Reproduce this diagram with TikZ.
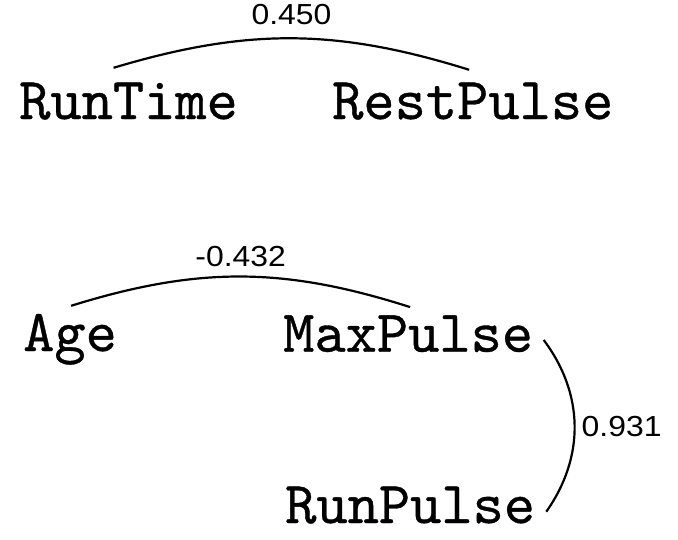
\documentclass[tikz,border=0pt]{standalone}
\usepackage{fontspec}
\usepackage{graphicx}
\newfontfamily\labfont{Liberation Sans}
\newfontfamily\varfamily{lmmono10-regular.otf}[FakeBold=0.6]
\newcommand{\varfont}{\fontsize{59.5}{60}\selectfont\varfamily\bfseries}
\newcommand{\corr}[1]{\scalebox{1.1}[1]{\fontsize{29}{31}\selectfont\labfont #1}}
\tikzset{
  var/.style={font=\varfont, inner sep=0pt, text height=36pt, text depth=0pt, anchor=base west},
  link/.style={line width=2.2pt, black},
  corrlabel/.style={inner sep=0pt, text depth=0pt}
}
\begin{document}
\begin{tikzpicture}[x=1pt,y=-1pt]
\useasboundingbox (0,0) rectangle (678,539);
\fill[white] (0,0) rectangle (678,539);
\node[var] (RunTime) at (19,119) {RunTime};
\node[var] (RestPulse) at (332,119) {RestPulse};
\node[var] (Age) at (23,351) {Age};
\node[var] (MaxPulse) at (283,351.7) {MaxPulse};
\node[var] (RunPulse) at (285,523) {RunPulse};

\draw[link] ([xshift=-15pt,yshift=15pt]RunTime.north) to[bend left=17]
  node[corrlabel, midway, anchor=base, yshift=13.5pt] (l1) {\corr{0.450}}
  ([xshift=-3.6pt,yshift=13pt]RestPulse.north);
\draw[link] ([xshift=1pt,yshift=9pt]Age.north) to[bend left=17.5]
  node[corrlabel, midway, anchor=base, yshift=10.5pt] (l2) {\corr{-0.432}}
  ([xshift=2pt,yshift=8.4pt]MaxPulse.north);
\draw[link] ([xshift=10.4pt,yshift=11.7pt]MaxPulse.base east) to[bend left=36]
  node[corrlabel, midway, anchor=base west, xshift=6pt, yshift=-11pt] (l3) {\corr{0.931}}
  ([xshift=11pt,yshift=11.3pt]RunPulse.base east);
\end{tikzpicture}
\end{document}
